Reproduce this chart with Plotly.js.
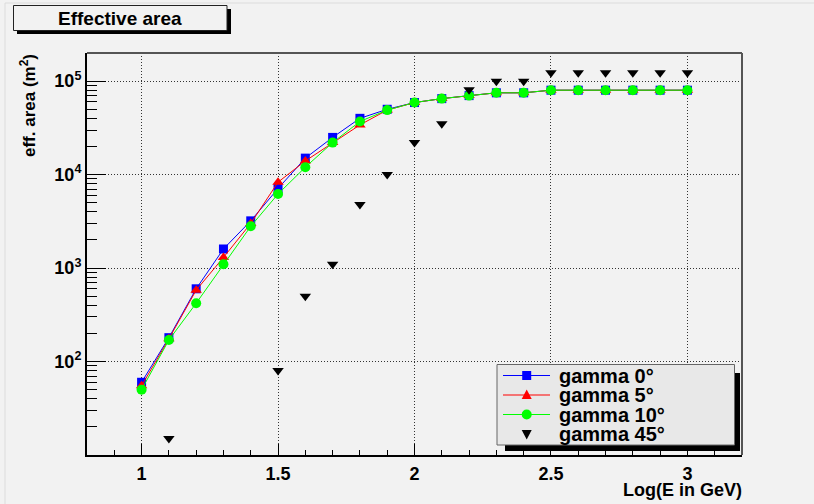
<!DOCTYPE html>
<html><head><meta charset="utf-8">
<script src="https://cdn.plot.ly/plotly-3.0.1.min.js"></script>
<style>html,body{margin:0;padding:0;background:#f2f2f2;}</style>
</head><body><div id="chart" style="width:814px;height:504px;"></div>
<script>
// ---- data ----
const logE = [1.0, 1.1, 1.2, 1.3, 1.4, 1.5, 1.6, 1.7, 1.8, 1.9, 2.0, 2.1, 2.2, 2.3, 2.4, 2.5, 2.6, 2.7, 2.8, 2.9, 3.0];
const gamma0 = [60, 180, 600, 1600, 3200, 7100, 15000, 25000, 40000, 50000, 59000, 65000, 70000, 75000, 75000, 80000, 80000, 80000, 80000, 80000, 80000];
const gamma5 = [55, 175, 580, 1300, 3000, 8300, 14000, 22000, 34000, 49000, 59000, 65000, 70000, 75000, 75000, 80000, 80000, 80000, 80000, 80000, 80000];
const gamma10 = [50, 170, 420, 1100, 2800, 6200, 12000, 22000, 37000, 49000, 59000, 65000, 70000, 75000, 75000, 80000, 80000, 80000, 80000, 80000, 80000];
const gamma45 = [null, 15, null, null, null, 80, 500, 1100, 4800, 10000, 22000, 35000, 81000, 100000, 100000, 123000, 123000, 123000, 123000, 123000, 123000];
const seriesNames = ['gamma 0°', 'gamma 5°', 'gamma 10°', 'gamma 45°'];
const yTickVals = [100, 1000, 10000, 100000];
const yTickText = ['10<sup>2</sup>', '10<sup>3</sup>', '10<sup>4</sup>', '10<sup>5</sup>'];
const xTickVals = [1, 1.5, 2, 2.5, 3];
const xTickText = ['1', '1.5', '2', '2.5', '3'];

// ---- geometry helpers (pixel -> paper) ----
const L = 87, R = 742, T = 53, B = 455;
const px = p => (p - L) / (R - L);
const py = p => (B - p) / (B - T);
const FONT = 'Liberation Sans, Arial, Helvetica, sans-serif';

const traces = [
  {x: logE, y: gamma0, name: seriesNames[0], mode: 'lines+markers',
   line: {color: '#0000ff', width: 1}, marker: {symbol: 'square', size: 9, color: '#0000ff'}},
  {x: logE, y: gamma5, name: seriesNames[1], mode: 'lines+markers',
   line: {color: '#ff0000', width: 1}, marker: {symbol: 'triangle-up', size: 10, color: '#ff0000'}},
  {x: logE, y: gamma10, name: seriesNames[2], mode: 'lines+markers',
   line: {color: '#00ff00', width: 1}, marker: {symbol: 'circle', size: 10, color: '#00ff00'}},
  {x: logE, y: gamma45, name: seriesNames[3], mode: 'markers',
   marker: {symbol: 'triangle-down', size: 10, color: '#000000'}}
];

// ---- custom ROOT-style legend ----
const shapes = [];
const annotations = [];
// outer frame top/right (grey)
shapes.push({type: 'line', xref: 'paper', yref: 'paper', x0: 0, x1: 1, y0: 1, y1: 1, line: {color: '#555', width: 2}});
shapes.push({type: 'line', xref: 'paper', yref: 'paper', x0: 1, x1: 1, y0: 0, y1: 1, line: {color: '#555', width: 2}});
// canvas edge lines
shapes.push({type: 'line', xref: 'paper', yref: 'paper', x0: px(5), x1: px(5), y0: py(3), y1: py(504), line: {color: '#dcdcdc', width: 1}});
shapes.push({type: 'line', xref: 'paper', yref: 'paper', x0: px(5), x1: px(814), y0: py(3), y1: py(3), line: {color: '#dcdcdc', width: 1}});

// title box
shapes.push({type: 'rect', xref: 'paper', yref: 'paper', x0: px(17), x1: px(231), y0: py(9), y1: py(34), fillcolor: '#000', line: {width: 0}});
shapes.push({type: 'rect', xref: 'paper', yref: 'paper', x0: px(13.5), x1: px(227), y0: py(5.5), y1: py(30.5), fillcolor: '#f2f2f2', line: {color: '#222', width: 1}});
annotations.push({xref: 'paper', yref: 'paper', x: px(120), y: py(18), text: '<b>Effective area</b>', showarrow: false,
  xanchor: 'center', yanchor: 'middle', font: {family: FONT, size: 19, color: '#000'}});

// legend box
shapes.push({type: 'rect', xref: 'paper', yref: 'paper', x0: px(505), x1: px(740), y0: py(373), y1: py(451), fillcolor: '#000', line: {width: 0}});
shapes.push({type: 'rect', xref: 'paper', yref: 'paper', x0: px(497), x1: px(734.5), y0: py(364.5), y1: py(445), fillcolor: '#e8e8e8', line: {color: '#666', width: 1}});
const legColors = ['#0000ff', '#ff0000', '#00ff00', '#000000'];
const rowY = [375.5, 395, 414.5, 434];
const mx = 526.7, s = 9;
for (let i = 0; i < 4; i++) {
  const cy = rowY[i];
  if (i < 3) shapes.push({type: 'line', xref: 'paper', yref: 'paper', x0: px(503), x1: px(550), y0: py(cy), y1: py(cy), line: {color: legColors[i], width: 1}});
  let path;
  if (i === 0) {
    shapes.push({type: 'rect', xref: 'paper', yref: 'paper', x0: px(mx - s / 2), x1: px(mx + s / 2), y0: py(cy - s / 2), y1: py(cy + s / 2), fillcolor: legColors[i], line: {width: 0}});
  } else if (i === 2) {
    shapes.push({type: 'circle', xref: 'paper', yref: 'paper', x0: px(mx - 5), x1: px(mx + 5), y0: py(cy - 5), y1: py(cy + 5), fillcolor: legColors[i], line: {width: 0}});
  } else if (i === 1) {
    path = `M ${px(mx)} ${py(cy - 5.5)} L ${px(mx - 5)} ${py(cy + 4)} L ${px(mx + 5)} ${py(cy + 4)} Z`;
    shapes.push({type: 'path', xref: 'paper', yref: 'paper', path: path, fillcolor: legColors[i], line: {width: 0}});
  } else {
    path = `M ${px(mx)} ${py(cy + 5.5)} L ${px(mx - 5)} ${py(cy - 4)} L ${px(mx + 5)} ${py(cy - 4)} Z`;
    shapes.push({type: 'path', xref: 'paper', yref: 'paper', path: path, fillcolor: legColors[i], line: {width: 0}});
  }
  annotations.push({xref: 'paper', yref: 'paper', x: px(557), y: py(cy), text: '<b>' + seriesNames[i] + '</b>', showarrow: false,
    xanchor: 'left', yanchor: 'middle', font: {family: FONT, size: 20, color: '#000'}});
}

// axis titles
annotations.push({xref: 'paper', yref: 'paper', x: px(744), y: py(490), text: '<b>Log(E in GeV)</b>', showarrow: false,
  xanchor: 'right', yanchor: 'middle', font: {family: FONT, size: 18, color: '#000'}});
annotations.push({xref: 'paper', yref: 'paper', x: px(28), y: py(106), text: '<b>eff. area (m<sup>2</sup>)</b>', showarrow: false,
  textangle: -90, xanchor: 'center', yanchor: 'middle', font: {family: FONT, size: 17, color: '#000'}});

const layout = {
  width: 814, height: 504,
  margin: {l: L, r: 814 - R, t: T, b: 504 - B, pad: 0},
  paper_bgcolor: '#f2f2f2', plot_bgcolor: '#f2f2f2',
  showlegend: false,
  font: {family: FONT, color: '#000'},
  xaxis: {
    range: [0.8, 3.2], tickmode: 'array', tickvals: xTickVals, ticktext: xTickText,
    ticks: 'inside', ticklen: 11, tickwidth: 1, tickcolor: '#000',
    showline: true, linecolor: '#000', linewidth: 2, mirror: false,
    showgrid: true, gridcolor: '#333', griddash: '1px,2px', gridwidth: 1,
    zeroline: false, tickfont: {family: FONT, size: 18, color: '#000', weight: 'bold'},
    minor: {dtick: 0.1, tick0: 0.8, ticks: 'inside', ticklen: 5, tickcolor: '#000', tickwidth: 1, showgrid: false},
    ticklabelstandoff: 1
  },
  yaxis: {
    type: 'log', range: [1, Math.log10(200000)], tickmode: 'array', tickvals: yTickVals, ticktext: yTickText,
    ticks: 'inside', ticklen: 19, tickwidth: 1, tickcolor: '#000',
    showline: true, linecolor: '#000', linewidth: 2, mirror: false,
    showgrid: true, gridcolor: '#333', griddash: '1px,2px', gridwidth: 1,
    zeroline: false, tickfont: {family: FONT, size: 18, color: '#000', weight: 'bold'},
    minor: {dtick: 'D1', ticks: 'inside', ticklen: 10, tickcolor: '#000', tickwidth: 1, showgrid: false}
  },
  shapes: shapes,
  annotations: annotations
};

Plotly.newPlot('chart', traces, layout, {displayModeBar: false, staticPlot: true});
</script>
</body></html>
